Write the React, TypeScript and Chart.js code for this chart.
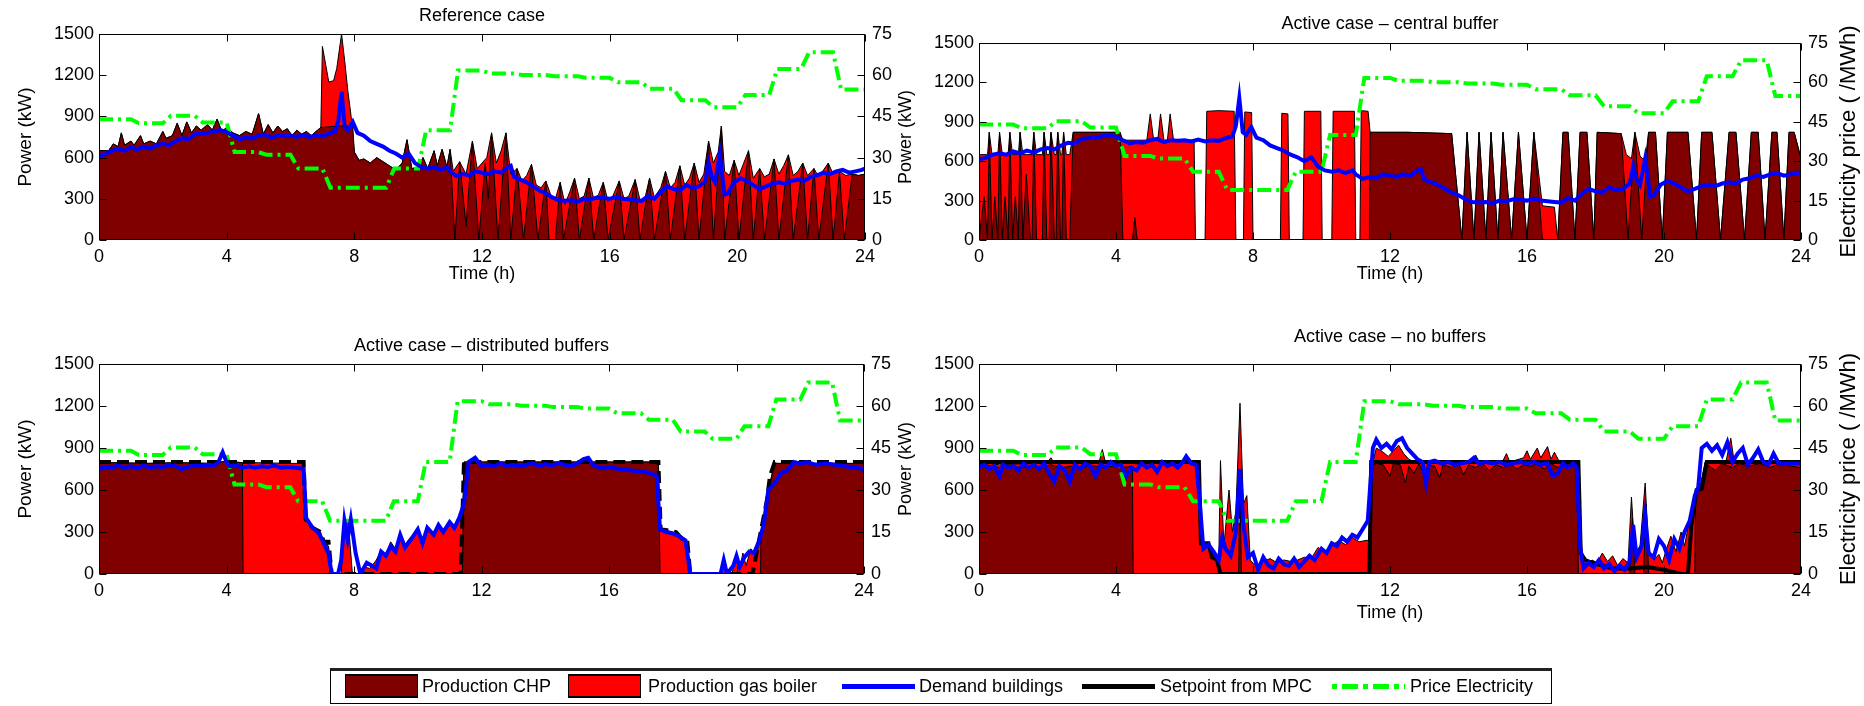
import React, { useEffect, useRef } from 'react';
import { Chart, registerables } from 'chart.js';
Chart.register(...registerables);

const W = 1864;
const H = 706;

const X_TICKS = [0, 4, 8, 12, 16, 20, 24];
const Y_TICKS = [0, 300, 600, 900, 1200, 1500];
const Y2_TICKS = [0, 15, 30, 45, 60, 75];

const PRICE_HOURS = [0, 1, 2, 3, 4, 5, 6, 7, 8, 9, 10, 11, 12, 13, 14, 15, 16, 17, 18, 19, 20, 21, 22, 23];
const PRICE_VALUES = [44, 42.5, 45.2, 42.8, 32, 31, 26, 19, 19, 26, 40, 61.7, 60.6, 60.1, 59.6, 59.1, 57.4, 55.1, 50.9, 48.3, 52.8, 62.3, 68.4, 54.8];

const DEMAND_TOP = [[0,615],[0.2,625],[0.4,650],[0.6,660],[0.8,650],[1.0,675],[1.2,660],[1.4,680],[1.6,665],[1.8,690],[2.0,700],[2.2,690],[2.4,720],[2.6,740],[2.8,735],[3.0,770],[3.2,775],[3.4,780],[3.6,790],[3.8,800],[4.0,785],[4.2,760],[4.4,735],[4.6,745],[4.8,740],[5.0,760],[5.2,770],[5.4,745],[5.6,760],[5.8,755],[6.0,760],[6.2,750],[6.4,765],[6.6,750],[6.8,760],[7.0,755],[7.2,775],[7.4,790],[7.5,870],[7.6,1080],[7.7,820],[7.8,800],[7.95,860],[8.1,780],[8.3,760],[8.5,720],[8.7,700],[8.9,680],[9.1,650],[9.3,630],[9.5,600],[9.7,630],[9.9,560],[10.1,530],[10.3,520],[10.5,530],[10.7,510],[10.9,530],[11.0,500],[11.2,465],[11.4,480],[11.6,470],[11.8,500],[12.0,490],[12.2,480],[12.4,500],[12.6,490],[12.8,530],[12.9,540],[13.0,460],[13.2,440],[13.4,420],[13.6,390],[13.8,360],[14.0,340],[14.2,310],[14.4,290],[14.6,285],[14.8,290],[15.0,280],[15.2,300],[15.4,295],[15.6,310],[15.8,305],[16.0,300],[16.2,315],[16.4,300],[16.6,295],[16.8,290],[17.0,285],[17.2,320],[17.4,300],[17.6,350],[17.8,390],[18.0,370],[18.2,360],[18.4,400],[18.6,380],[18.8,390],[19.0,430],[19.1,560],[19.2,460],[19.3,420],[19.45,620],[19.6,330],[19.7,340],[19.9,420],[20.1,450],[20.3,430],[20.5,400],[20.7,370],[20.9,390],[21.1,410],[21.3,420],[21.5,410],[21.7,430],[21.9,440],[22.1,430],[22.3,460],[22.5,470],[22.7,490],[22.9,480],[23.1,500],[23.3,510],[23.5,490],[23.7,500],[23.9,510],[24,520]];

const TL_TOTAL = [[0,650],[0.3,650],[0.45,700],[0.6,680],[0.7,780],[0.8,690],[1.0,720],[1.1,690],[1.3,760],[1.4,700],[1.6,720],[1.8,700],[2.0,790],[2.1,740],[2.3,760],[2.45,850],[2.6,760],[2.75,860],[2.9,780],[3.05,830],[3.2,800],[3.4,840],[3.55,800],[3.7,880],[3.85,790],[4.0,820],[4.2,780],[4.4,760],[4.6,790],[4.8,770],[5.0,920],[5.15,770],[5.3,840],[5.45,780],[5.6,830],[5.75,790],[5.9,810],[6.05,760],[6.2,800],[6.35,770],[6.5,790],[6.65,760],[6.85,800],[6.95,820],[7.0,1410],[7.2,1150],[7.35,1160],[7.45,1250],[7.6,1500],[7.7,1300],[7.8,1080],[7.9,900],[8.0,640],[8.15,580],[8.3,590],[8.5,560],[8.7,600],[8.9,570],[9.1,540],[9.3,510],[9.5,560],[9.65,730],[9.8,520],[10.0,530],[10.15,600],[10.3,520],[10.5,650],[10.6,540],[10.75,660],[10.9,530],[11.0,660],[11.1,500],[11.3,570],[11.5,480],[11.7,720],[11.85,520],[12.0,560],[12.15,600],[12.3,780],[12.45,560],[12.6,650],[12.75,780],[12.9,480],[13.1,520],[13.25,430],[13.4,470],[13.55,550],[13.7,400],[13.85,380],[14.0,430],[14.15,330],[14.3,300],[14.45,420],[14.6,260],[14.75,350],[14.9,450],[15.05,300],[15.2,320],[15.35,450],[15.5,300],[15.65,330],[15.8,420],[15.95,280],[16.1,320],[16.3,430],[16.45,300],[16.6,320],[16.8,440],[16.95,290],[17.1,300],[17.25,450],[17.4,310],[17.6,380],[17.75,500],[17.9,380],[18.05,420],[18.2,540],[18.35,400],[18.5,450],[18.65,560],[18.8,420],[18.95,480],[19.1,720],[19.25,560],[19.4,640],[19.5,830],[19.6,500],[19.75,470],[19.9,580],[20.05,470],[20.2,560],[20.35,650],[20.5,450],[20.7,520],[20.85,460],[21.0,480],[21.15,590],[21.3,480],[21.45,540],[21.6,620],[21.75,470],[21.9,500],[22.05,560],[22.2,470],[22.4,520],[22.55,460],[22.7,510],[22.85,560],[23.0,480],[23.2,500],[23.4,470],[23.6,480],[23.8,470],[24,480]];

const TL_CHP = [[0,650],[0.3,650],[0.45,700],[0.6,680],[0.7,780],[0.8,690],[1.0,720],[1.1,690],[1.3,760],[1.4,700],[1.6,720],[1.8,700],[2.0,790],[2.1,740],[2.3,760],[2.45,850],[2.6,760],[2.75,860],[2.9,780],[3.05,830],[3.2,800],[3.4,840],[3.55,800],[3.7,880],[3.85,790],[4.0,820],[4.2,780],[4.4,760],[4.6,790],[4.8,770],[5.0,920],[5.15,770],[5.3,840],[5.45,780],[5.6,830],[5.75,790],[5.9,810],[6.05,760],[6.2,800],[6.35,770],[6.5,790],[6.65,760],[6.85,800],[6.95,820],[7.0,820],[7.5,830],[7.95,830],[8.0,640],[8.15,580],[8.3,590],[8.5,560],[8.7,600],[8.9,570],[9.1,540],[9.3,510],[9.5,560],[9.65,730],[9.8,520],[10.0,530],[10.15,600],[10.3,520],[10.5,650],[10.6,540],[10.75,660],[10.9,530],[11.0,660],[11.15,0],[11.3,570],[11.5,100],[11.7,720],[11.9,0],[12.1,560],[12.2,300],[12.3,780],[12.5,0],[12.75,780],[12.9,0],[13.1,520],[13.3,0],[13.55,550],[13.75,0],[14.0,430],[14.1,0],[14.3,0],[14.45,420],[14.55,0],[14.9,450],[15.05,0],[15.35,450],[15.5,0],[15.8,420],[15.95,0],[16.3,430],[16.45,0],[16.8,440],[16.95,0],[17.25,450],[17.4,0],[17.75,500],[17.9,0],[18.2,540],[18.35,0],[18.65,560],[18.8,0],[19.1,720],[19.25,0],[19.5,830],[19.6,0],[19.9,580],[20.05,0],[20.35,650],[20.5,0],[20.7,520],[20.85,0],[21.15,590],[21.3,0],[21.6,620],[21.75,0],[22.05,560],[22.2,0],[22.4,520],[22.55,0],[22.85,560],[23.0,0],[23.2,500],[23.35,0],[23.6,480],[23.8,470],[24,480]];

const TR_TOTAL = [[0,650],[0.25,650],[0.3,820],[0.38,650],[0.55,650],[0.6,820],[0.68,650],[0.85,650],[0.9,820],[0.98,650],[1.15,650],[1.2,820],[1.28,650],[1.55,650],[1.6,820],[1.68,650],[1.85,650],[1.9,820],[1.98,650],[2.05,650],[2.1,820],[2.2,650],[2.25,650],[2.3,820],[2.38,650],[2.42,650],[2.47,820],[2.55,650],[2.65,650],[2.75,820],[4.12,820],[4.2,760],[4.9,760],[5.0,960],[5.1,760],[5.22,760],[5.3,960],[5.4,760],[5.5,760],[5.58,960],[5.68,760],[6.28,760],[6.32,0],[6.6,0],[6.65,980],[7.0,985],[7.45,980],[7.5,0],[7.72,0],[7.76,975],[7.96,970],[8.0,0],[8.8,0],[8.84,965],[9.02,960],[9.06,0],[9.46,0],[9.5,980],[9.98,980],[10.02,0],[10.3,0],[10.34,980],[10.96,980],[11.0,0],[11.12,0],[11.16,985],[11.36,980],[11.42,820],[12.5,820],[13.8,810],[14.1,0],[14.25,820],[14.45,0],[14.6,820],[14.8,0],[14.95,820],[15.15,0],[15.3,820],[15.55,0],[15.75,820],[16.0,0],[16.2,820],[16.45,260],[16.8,250],[16.9,0],[17.05,820],[17.2,820],[17.4,0],[17.55,820],[17.75,820],[17.95,0],[18.05,820],[18.75,810],[18.9,650],[19.05,620],[19.15,820],[19.3,640],[19.45,600],[19.55,820],[19.75,820],[19.95,0],[20.1,820],[20.7,820],[20.95,0],[21.1,820],[21.4,820],[21.65,0],[21.9,820],[22.1,820],[22.35,0],[22.55,820],[22.75,820],[22.95,0],[23.15,820],[23.3,820],[23.5,0],[23.65,820],[23.8,820],[24,620]];

const TR_CHP = [[0,0],[0.15,330],[0.25,0],[0.3,820],[0.38,0],[0.46,330],[0.55,0],[0.6,820],[0.68,0],[0.76,330],[0.85,0],[0.9,820],[0.98,0],[1.06,330],[1.15,0],[1.2,820],[1.28,0],[1.38,500],[1.5,0],[1.55,0],[1.6,820],[1.68,0],[1.85,0],[1.9,820],[1.98,0],[2.05,0],[2.1,820],[2.2,0],[2.25,0],[2.3,820],[2.38,0],[2.42,0],[2.47,820],[2.55,0],[2.65,0],[2.75,820],[4.12,820],[4.2,0],[4.48,0],[4.55,170],[4.62,0],[11.4,0],[11.42,820],[12.5,820],[13.8,810],[14.1,0],[14.25,820],[14.45,0],[14.6,820],[14.8,0],[14.95,820],[15.15,0],[15.3,820],[15.55,0],[15.75,820],[16.0,0],[16.2,820],[16.45,0],[16.9,0],[17.05,820],[17.2,820],[17.4,0],[17.55,820],[17.75,820],[17.95,0],[18.05,820],[18.75,810],[18.95,0],[19.15,820],[19.35,0],[19.55,820],[19.75,820],[19.95,0],[20.1,820],[20.7,820],[20.95,0],[21.1,820],[21.4,820],[21.65,0],[21.9,820],[22.1,820],[22.35,0],[22.55,820],[22.75,820],[22.95,0],[23.15,820],[23.3,820],[23.5,0],[23.65,820],[23.8,820],[24,620]];

const BL_SETPOINT = [[0,800],[6.42,800],[6.48,390],[6.7,330],[6.95,300],[7.05,230],[7.2,230],[7.3,0],[11.35,0],[11.45,800],[17.55,800],[17.62,320],[18.1,300],[18.3,250],[18.45,250],[18.55,0],[20.5,0],[20.75,290],[20.95,520],[21.05,700],[21.2,800],[24,800]];

const BL_DEMAND = [[0,750],[0.2,765],[0.4,760],[0.6,775],[0.8,760],[1.0,770],[1.2,755],[1.4,775],[1.6,760],[1.8,770],[2.0,765],[2.2,775],[2.4,770],[2.6,750],[2.8,765],[3.0,775],[3.2,770],[3.4,780],[3.6,775],[3.75,800],[3.88,870],[4.0,800],[4.1,770],[4.3,775],[4.5,760],[4.7,770],[4.9,760],[5.1,770],[5.3,765],[5.5,775],[5.7,760],[5.9,765],[6.1,760],[6.3,755],[6.42,750],[6.5,400],[6.7,330],[6.9,290],[7.05,220],[7.2,150],[7.3,0],[7.5,0],[7.6,100],[7.7,380],[7.8,250],[7.9,390],[8.05,150],[8.2,0],[8.4,80],[8.55,60],[8.7,40],[8.85,160],[9.0,130],[9.15,200],[9.3,160],[9.45,280],[9.6,190],[9.8,250],[10.0,320],[10.15,220],[10.3,330],[10.5,280],[10.65,350],[10.8,300],[11.0,370],[11.15,330],[11.3,400],[11.45,500],[11.6,800],[11.8,830],[12.0,770],[12.2,780],[12.4,770],[12.6,790],[12.8,770],[13.0,780],[13.2,770],[13.4,780],[13.6,790],[13.8,770],[14.0,785],[14.2,775],[14.4,790],[14.6,780],[14.8,770],[15.0,790],[15.2,820],[15.35,830],[15.5,780],[15.7,760],[15.9,755],[16.1,760],[16.3,750],[16.5,745],[16.7,740],[16.9,735],[17.1,730],[17.3,720],[17.5,700],[17.6,320],[17.8,300],[18.0,290],[18.2,270],[18.4,240],[18.55,0],[19.5,0],[19.6,100],[19.7,0],[19.9,60],[20.0,130],[20.1,50],[20.25,120],[20.4,160],[20.55,150],[20.7,230],[20.85,350],[21.0,600],[21.2,650],[21.4,720],[21.6,740],[21.8,800],[22.0,790],[22.2,800],[22.5,780],[22.8,790],[23.1,780],[23.4,770],[23.7,760],[24,750]];

const BL_TOTAL = [[0,790],[0.5,795],[1.5,790],[2.5,795],[3.5,790],[4.0,805],[4.5,795],[5.0,795],[6.0,790],[6.42,790],[6.5,400],[6.7,330],[6.95,300],[7.05,230],[7.2,200],[7.3,0],[7.6,0],[7.68,390],[7.75,350],[7.82,380],[7.95,0],[8.15,0],[8.3,50],[8.5,40],[8.7,100],[8.85,170],[9.0,140],[9.15,230],[9.3,180],[9.45,280],[9.6,210],[9.8,270],[10.0,300],[10.15,230],[10.3,330],[10.5,280],[10.65,340],[10.8,300],[11.0,360],[11.15,330],[11.3,390],[11.4,380],[11.45,800],[17.55,800],[17.6,330],[17.8,310],[18.0,300],[18.2,280],[18.4,250],[18.5,0],[19.5,0],[19.6,80],[19.7,0],[19.85,0],[20.0,120],[20.1,30],[20.2,150],[20.3,60],[20.45,180],[20.6,130],[20.75,250],[20.9,450],[21.05,650],[21.2,790],[24,790]];

const BL_CHP = [[0,790],[0.5,795],[1.5,790],[2.5,795],[3.5,790],[4.0,805],[4.5,795],[4.52,0],[11.4,0],[11.45,800],[17.55,800],[17.6,0],[20.75,0],[20.77,250],[20.9,450],[21.05,650],[21.2,790],[24,790]];

const BR_SETPOINT = [[0,800],[6.42,800],[6.48,220],[6.7,220],[6.8,120],[6.95,100],[7.05,0],[11.4,0],[11.45,800],[17.5,800],[17.57,150],[17.7,100],[17.9,80],[18.2,60],[18.5,40],[19.0,40],[19.5,50],[20.0,30],[20.5,0],[20.7,0],[20.8,350],[20.95,600],[21.1,610],[21.25,800],[24,800]];

const BR_DEMAND = [[0,760],[0.15,780],[0.3,750],[0.45,770],[0.6,700],[0.7,780],[0.85,760],[1.0,770],[1.15,740],[1.3,790],[1.45,760],[1.6,780],[1.75,750],[1.9,790],[2.05,720],[2.2,660],[2.35,770],[2.5,740],[2.65,660],[2.8,780],[2.95,750],[3.1,790],[3.25,770],[3.4,700],[3.55,780],[3.7,760],[3.85,800],[4.0,770],[4.15,780],[4.3,700],[4.45,760],[4.6,740],[4.75,790],[4.9,760],[5.05,780],[5.2,730],[5.35,800],[5.5,770],[5.65,790],[5.8,760],[5.95,800],[6.05,840],[6.2,790],[6.35,780],[6.45,500],[6.55,180],[6.7,210],[6.85,160],[7.0,100],[7.1,260],[7.2,180],[7.35,130],[7.5,300],[7.62,750],[7.72,350],[7.85,120],[8.0,150],[8.15,30],[8.3,120],[8.45,60],[8.6,40],[8.75,110],[8.9,70],[9.05,60],[9.2,110],[9.35,50],[9.5,90],[9.65,130],[9.8,100],[10.0,180],[10.15,150],[10.3,220],[10.45,200],[10.6,260],[10.75,230],[10.9,280],[11.05,260],[11.2,320],[11.35,380],[11.5,900],[11.6,960],[11.75,900],[11.9,930],[12.05,890],[12.2,950],[12.35,970],[12.5,900],[12.65,860],[12.8,820],[12.95,800],[13.05,650],[13.15,800],[13.3,810],[13.5,790],[13.7,800],[13.9,780],[14.1,790],[14.3,800],[14.45,830],[14.6,790],[14.8,800],[15.0,790],[15.2,800],[15.4,780],[15.6,790],[15.8,800],[16.0,790],[16.2,800],[16.4,780],[16.6,790],[16.75,700],[16.9,720],[17.05,790],[17.2,760],[17.35,790],[17.45,760],[17.55,200],[17.65,40],[17.8,80],[17.95,50],[18.1,100],[18.25,40],[18.4,70],[18.55,20],[18.7,60],[18.85,30],[19.0,90],[19.1,350],[19.2,120],[19.35,200],[19.45,420],[19.55,150],[19.7,120],[19.85,250],[20.0,200],[20.15,100],[20.3,250],[20.45,180],[20.6,300],[20.75,380],[20.9,560],[21.0,620],[21.1,900],[21.25,930],[21.4,880],[21.55,920],[21.7,850],[21.85,940],[22.0,800],[22.15,860],[22.3,900],[22.45,780],[22.6,830],[22.75,890],[22.9,800],[23.05,780],[23.2,860],[23.35,790],[23.5,790],[24,790]];

const BR_TOTAL = [[0,780],[0.3,790],[0.6,780],[1.0,785],[1.5,790],[2.0,800],[2.1,830],[2.2,790],[3.0,790],[3.3,810],[3.5,790],[3.6,890],[3.7,790],[4.0,790],[4.5,790],[4.8,780],[5.1,800],[5.4,780],[5.7,800],[6.0,790],[6.4,790],[6.45,220],[6.7,200],[6.85,150],[7.0,100],[7.05,810],[7.15,200],[7.3,600],[7.4,300],[7.5,450],[7.62,1220],[7.72,500],[7.82,560],[7.92,100],[8.1,50],[8.3,90],[8.5,110],[8.7,80],[8.9,100],[9.1,90],[9.3,100],[9.5,120],[9.7,110],[9.9,190],[10.1,150],[10.3,200],[10.5,240],[10.7,210],[10.9,260],[11.1,230],[11.3,240],[11.4,240],[11.42,790],[11.5,800],[11.6,900],[11.8,870],[11.95,840],[12.1,880],[12.25,920],[12.4,860],[12.55,820],[12.7,800],[13.0,790],[14.4,800],[14.5,850],[14.6,800],[15.3,810],[15.4,860],[15.5,800],[15.9,830],[16.0,880],[16.1,820],[16.3,900],[16.4,830],[16.6,910],[16.7,820],[16.8,870],[16.95,800],[17.5,790],[17.55,300],[17.6,120],[17.75,60],[17.9,100],[18.05,80],[18.2,150],[18.35,90],[18.5,130],[18.65,60],[18.8,110],[18.95,80],[19.05,550],[19.15,150],[19.3,200],[19.45,650],[19.55,180],[19.7,100],[19.85,140],[19.95,80],[20.1,200],[20.2,270],[20.35,160],[20.5,300],[20.6,200],[20.7,330],[20.8,350],[20.95,600],[21.05,620],[21.2,800],[21.5,810],[21.8,790],[21.95,970],[22.05,800],[22.4,790],[22.8,810],[23.2,790],[24,790]];

const BR_CHP = [[0,760],[0.2,780],[0.4,770],[0.6,760],[0.9,775],[1.2,760],[1.5,770],[1.8,765],[2.1,780],[2.4,760],[2.7,770],[3.0,760],[3.3,775],[3.6,760],[3.9,770],[4.2,760],[4.48,770],[4.5,0],[7.58,0],[7.62,700],[7.66,0],[11.4,0],[11.45,770],[11.6,790],[11.8,780],[12.0,700],[12.1,790],[12.3,780],[12.45,650],[12.55,770],[12.7,720],[12.85,790],[13.0,700],[13.1,780],[13.3,770],[13.45,690],[13.55,780],[13.8,760],[14.0,790],[14.15,710],[14.3,780],[14.5,760],[14.7,790],[14.9,740],[15.1,780],[15.3,760],[15.5,790],[15.7,750],[15.9,780],[16.1,770],[16.3,790],[16.5,750],[16.7,790],[16.9,760],[17.1,790],[17.3,770],[17.45,780],[17.5,0],[19.0,0],[19.08,400],[19.15,0],[19.4,0],[19.48,500],[19.55,0],[20.9,0],[20.92,600],[21.1,610],[21.2,790],[21.5,740],[21.7,790],[22.0,760],[22.2,790],[22.5,770],[22.8,790],[23.1,760],[23.4,790],[23.7,770],[24,760]];

const FONT_FAMILY = '"Liberation Sans", Arial, sans-serif';

type Panel = {
  area: { l: number; t: number; r: number; b: number };
  title: string; titleY: number;
  leftLabel?: string; leftLabelX?: number;
  rightLabel: string; rightLabelX: number; rightLabelSize: number;
  xLabel?: string; xLabelY?: number;
  xTickY: number;
  demand: number[][]; chp: number[][]; total: number[][];
  setpoint?: number[][]; setpointDash?: boolean;
};

const PANELS: Panel[] = [
  { area: { l: 99, t: 34, r: 865, b: 240 }, title: 'Reference case', titleY: 16,
    leftLabel: 'Power (kW)', leftLabelX: 26, rightLabel: 'Power (kW)', rightLabelX: 906, rightLabelSize: 18,
    xLabel: 'Time (h)', xLabelY: 274, xTickY: 257, demand: DEMAND_TOP, chp: TL_CHP, total: TL_TOTAL },
  { area: { l: 979, t: 43, r: 1801, b: 240 }, title: 'Active case \u2013 central buffer', titleY: 24,
    rightLabel: 'Electricity price ( /MWh)', rightLabelX: 1849, rightLabelSize: 22,
    xLabel: 'Time (h)', xLabelY: 274, xTickY: 257, demand: DEMAND_TOP, chp: TR_CHP, total: TR_TOTAL },
  { area: { l: 99, t: 364, r: 864, b: 574 }, title: 'Active case \u2013 distributed buffers', titleY: 346,
    leftLabel: 'Power (kW)', leftLabelX: 26, rightLabel: 'Power (kW)', rightLabelX: 906, rightLabelSize: 18,
    xTickY: 591, demand: BL_DEMAND, chp: BL_CHP, total: BL_TOTAL, setpoint: BL_SETPOINT, setpointDash: true },
  { area: { l: 979, t: 364, r: 1801, b: 574 }, title: 'Active case \u2013 no buffers', titleY: 337,
    rightLabel: 'Electricity price ( /MWh)', rightLabelX: 1849, rightLabelSize: 22,
    xLabel: 'Time (h)', xLabelY: 613, xTickY: 591, demand: BR_DEMAND, chp: BR_CHP, total: BR_TOTAL, setpoint: BR_SETPOINT },
];

const pts = (a: number[][]) => a.map(([x, y]) => ({ x, y }));

function priceData() {
  const out: { x: number; y: number }[] = [];
  PRICE_HOURS.forEach((h, i) => {
    out.push({ x: i === 0 ? h : h + 0.25, y: PRICE_VALUES[i] });
    out.push({ x: h + 1, y: PRICE_VALUES[i] });
  });
  return out;
}

const matlabAxes = {
  id: 'matlabAxes',
  afterDraw(chart: any, _args: any, o: any) {
    const { ctx, chartArea: ca } = chart;
    const xs = chart.scales.x, ys = chart.scales.y, y2 = chart.scales.y2;
    const L = Math.round(ca.left) + 0.5, R = Math.round(ca.right) - 0.5;
    const T = Math.round(ca.top) + 0.5, B = Math.round(ca.bottom) - 0.5;
    ctx.save();
    ctx.strokeStyle = '#000';
    ctx.lineWidth = 1;
    ctx.strokeRect(L, T, R - L, B - T);
    const tl = 7;
    ctx.beginPath();
    X_TICKS.forEach((v) => {
      const px = Math.round(xs.getPixelForValue(v)) + 0.5;
      ctx.moveTo(px, B); ctx.lineTo(px, B - tl);
      ctx.moveTo(px, T); ctx.lineTo(px, T + tl);
    });
    Y_TICKS.forEach((v) => {
      const py = Math.round(ys.getPixelForValue(v)) + 0.5;
      ctx.moveTo(L, py); ctx.lineTo(L + tl, py);
    });
    Y2_TICKS.forEach((v) => {
      const py = Math.round(y2.getPixelForValue(v)) + 0.5;
      ctx.moveTo(R, py); ctx.lineTo(R - tl, py);
    });
    ctx.stroke();
    ctx.fillStyle = '#000';
    ctx.font = `18px ${FONT_FAMILY}`;
    ctx.textBaseline = 'middle';
    ctx.textAlign = 'center';
    X_TICKS.forEach((v) => ctx.fillText(String(v), xs.getPixelForValue(v), o.xTickY));
    ctx.textAlign = 'right';
    Y_TICKS.forEach((v) => ctx.fillText(String(v), ca.left - 5, ys.getPixelForValue(v)));
    ctx.textAlign = 'left';
    Y2_TICKS.forEach((v) => ctx.fillText(String(v), ca.right + 7, y2.getPixelForValue(v)));
    ctx.font = `18px ${FONT_FAMILY}`;
    ctx.textAlign = 'center';
    ctx.fillText(o.title, (ca.left + ca.right) / 2, o.titleY);
    if (o.xLabel) ctx.fillText(o.xLabel, (ca.left + ca.right) / 2, o.xLabelY);
    const cy = (ca.top + ca.bottom) / 2;
    if (o.leftLabel) {
      ctx.save();
      ctx.translate(o.leftLabelX, cy);
      ctx.rotate(-Math.PI / 2);
      ctx.font = `19px ${FONT_FAMILY}`;
      ctx.fillText(o.leftLabel, 0, 0);
      ctx.restore();
    }
    ctx.save();
    ctx.translate(o.rightLabelX, cy);
    ctx.rotate(-Math.PI / 2);
    ctx.font = `${o.rightLabelSize}px ${FONT_FAMILY}`;
    ctx.fillText(o.rightLabel, 0, 0);
    ctx.restore();
    ctx.restore();
  },
};

function buildConfig(p: Panel): any {
  const datasets: any[] = [];
  const common = { pointRadius: 0, tension: 0, fill: false };
  datasets.push({ ...common, label: 'Demand buildings', data: pts(p.demand), borderColor: '#0000ff', borderWidth: 4, yAxisID: 'y' });
  if (p.setpoint) {
    datasets.push({ ...common, label: 'Setpoint from MPC', data: pts(p.setpoint), borderColor: '#000000', borderWidth: 4,
      borderDash: p.setpointDash ? [12, 6] : [], yAxisID: 'y' });
  }
  datasets.push({ ...common, label: 'Price Electricity', data: priceData(), borderColor: '#00ff00', borderWidth: 4,
    borderDash: [14, 5, 3, 5], yAxisID: 'y2' });
  datasets.push({ ...common, label: 'Production CHP', data: pts(p.chp), borderColor: '#000000', borderWidth: 1,
    backgroundColor: '#800000', fill: 'origin', yAxisID: 'y' });
  datasets.push({ ...common, label: 'Production gas boiler', data: pts(p.total), borderColor: '#000000', borderWidth: 1,
    backgroundColor: '#ff0000', fill: 'origin', yAxisID: 'y' });
  return {
    type: 'line',
    data: { datasets },
    plugins: [matlabAxes],
    options: {
      animation: false,
      responsive: false,
      devicePixelRatio: 1,
      events: [],
      layout: { padding: { left: p.area.l, top: p.area.t, right: W - p.area.r, bottom: H - p.area.b } },
      scales: {
        x: { type: 'linear', min: 0, max: 24, display: false },
        y: { type: 'linear', min: 0, max: 1500, display: false },
        y2: { type: 'linear', min: 0, max: 75, display: false, position: 'right' },
      },
      plugins: {
        legend: { display: false },
        tooltip: { enabled: false },
        matlabAxes: {
          title: p.title, titleY: p.titleY, leftLabel: p.leftLabel, leftLabelX: p.leftLabelX,
          rightLabel: p.rightLabel, rightLabelX: p.rightLabelX, rightLabelSize: p.rightLabelSize,
          xLabel: p.xLabel, xLabelY: p.xLabelY, xTickY: p.xTickY,
        },
      },
    },
  };
}

const LEGEND_ITEMS = [
  { label: 'Production CHP', kind: 'box', color: '#800000', x: 345, tx: 422 },
  { label: 'Production gas boiler', kind: 'box', color: '#ff0000', x: 568, tx: 648 },
  { label: 'Demand buildings', kind: 'line', color: '#0000ff', x: 842, tx: 919 },
  { label: 'Setpoint from MPC', kind: 'line', color: '#000000', x: 1082, tx: 1160 },
  { label: 'Price Electricity', kind: 'dash', color: '#00ff00', x: 1332, tx: 1410 },
];

export default function App() {
  const refs = useRef<(HTMLCanvasElement | null)[]>([]);
  useEffect(() => {
    const charts = PANELS.map((p, i) => new Chart(refs.current[i] as HTMLCanvasElement, buildConfig(p)));
    return () => charts.forEach((c) => c.destroy());
  }, []);
  const legendY = 668;
  const legendH = 36;
  const midY = legendY + legendH / 2;
  return (
    <div style={{ position: 'fixed', left: 0, top: 0, width: W, height: H, background: '#fff', overflow: 'hidden' }}>
      {PANELS.map((_, i) => (
        <canvas key={i} ref={(el) => { refs.current[i] = el; }} width={W} height={H}
          style={{ position: 'absolute', left: 0, top: 0, width: W, height: H }} />
      ))}
      <div style={{ position: 'absolute', left: 330, top: legendY, width: 1222, height: legendH, boxSizing: 'border-box',
        border: '1px solid #000', borderTop: '3px solid #222' }} />
      {LEGEND_ITEMS.map((it) => (
        <React.Fragment key={it.label}>
          {it.kind === 'box' && (
            <div style={{ position: 'absolute', left: it.x, top: midY - 12, width: 73, height: 24, boxSizing: 'border-box',
              background: it.color, border: '1px solid #000', borderTop: '2px solid #000', borderBottom: '2px solid #000' }} />
          )}
          {it.kind === 'line' && (
            <div style={{ position: 'absolute', left: it.x, top: midY - 2, width: 73, height: 5, background: it.color }} />
          )}
          {it.kind === 'dash' && (
            <div style={{ position: 'absolute', left: it.x, top: midY - 2, width: 73, height: 5,
              background: 'repeating-linear-gradient(to right, #00ff00 0px, #00ff00 5px, transparent 5px, transparent 10px, #00ff00 10px, #00ff00 26px, transparent 26px, transparent 31px)' }} />
          )}
          <div style={{ position: 'absolute', left: it.tx, top: midY - 11, height: 22, lineHeight: '22px',
            fontFamily: FONT_FAMILY, fontSize: 18, color: '#000', whiteSpace: 'nowrap' }}>
            {it.label}
          </div>
        </React.Fragment>
      ))}
    </div>
  );
}
